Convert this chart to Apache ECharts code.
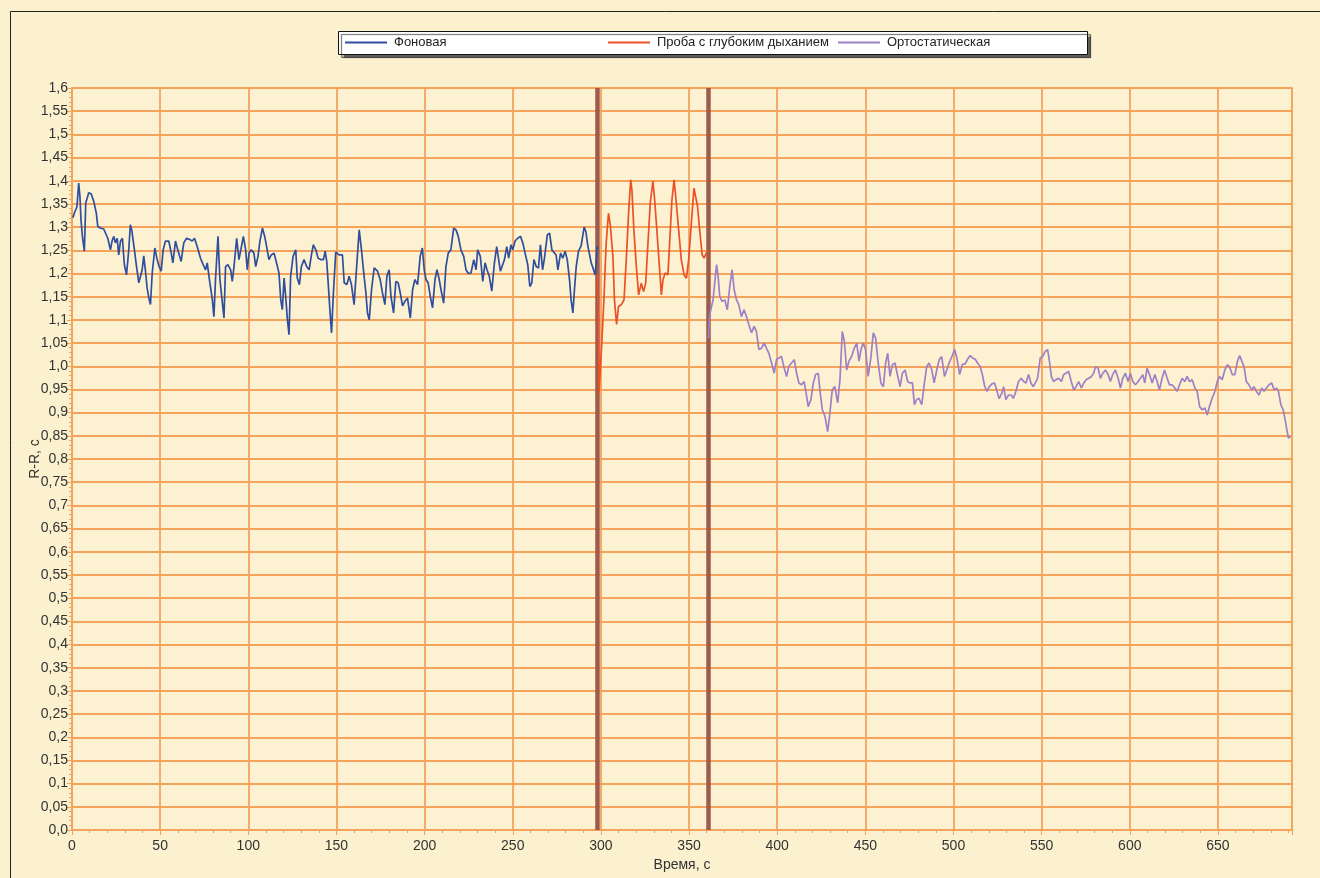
<!DOCTYPE html>
<html><head><meta charset="utf-8">
<script src="https://cdn.jsdelivr.net/npm/echarts@6/dist/echarts.min.js"></script>
<style>html,body{margin:0;padding:0;background:#FBF1CF;}#c{width:1320px;height:878px;}</style>
</head><body><div id="c"></div>
<script>
var seriesNames = ['Фоновая', 'Проба с глубоким дыханием', 'Ортостатическая'];
var xTicks = {min: 0, max: 692, interval: 50};
var yTicks = {min: 0, max: 1.6, interval: 0.05};
var stageBounds = [298, 361];
var fonData = [[0.5,1.32],[1.3,1.33],[2.8,1.344],[3.8,1.395],[4.5,1.366],[5.1,1.316],[5.9,1.28],[7,1.248],[7.8,1.352],[9.5,1.374],[10.8,1.372],[12.3,1.356],[13.8,1.33],[14.6,1.302],[16,1.298],[18,1.296],[19,1.298],[20.3,1.276],[21.8,1.251],[22.7,1.27],[23.7,1.28],[24.6,1.266],[25.6,1.276],[26.5,1.24],[27.5,1.27],[28.6,1.276],[29.7,1.219],[30.9,1.197],[32.2,1.251],[33.1,1.305],[34,1.291],[35.4,1.251],[36.6,1.215],[37.9,1.18],[38.8,1.176],[39.8,1.208],[40.7,1.238],[41.6,1.208],[42.6,1.169],[43.6,1.147],[44.5,1.133],[45.5,1.201],[47,1.255],[48.3,1.23],[49.4,1.215],[50.6,1.205],[51.7,1.251],[53,1.27],[54.9,1.27],[56.3,1.244],[57.2,1.223],[58.7,1.27],[60,1.251],[61.9,1.226],[63.4,1.266],[65,1.276],[66.9,1.273],[68.2,1.27],[69.5,1.276],[71,1.258],[72.9,1.233],[74.4,1.219],[75.8,1.208],[76.7,1.223],[78.2,1.18],[79.5,1.147],[80.5,1.107],[81.4,1.187],[82.8,1.28],[83.9,1.187],[85.2,1.14],[86.2,1.104],[87.1,1.215],[88.4,1.219],[90,1.208],[90.9,1.183],[91.9,1.215],[93.4,1.276],[94.7,1.23],[95.8,1.233],[97.2,1.28],[98.5,1.251],[99.4,1.208],[100.4,1.244],[101.7,1.251],[103.2,1.244],[104.2,1.215],[105.5,1.237],[106.6,1.27],[108,1.298],[109.3,1.28],[110.4,1.258],[111.7,1.23],[113,1.24],[114.6,1.244],[116,1.223],[117.4,1.201],[118.4,1.143],[119.3,1.122],[120.3,1.19],[121.2,1.151],[122.2,1.1],[123.1,1.068],[124,1.194],[125.4,1.237],[126.9,1.251],[127.8,1.19],[129,1.176],[130.1,1.215],[131.6,1.23],[133.1,1.215],[134.5,1.208],[135.8,1.24],[136.9,1.262],[138.3,1.251],[139.6,1.233],[141.1,1.23],[142.6,1.23],[143.6,1.248],[144.5,1.226],[145.5,1.169],[146.4,1.115],[147.2,1.072],[148.3,1.16],[149.6,1.246],[151.5,1.24],[153.4,1.24],[154.4,1.18],[155.9,1.176],[157.2,1.194],[158.5,1.176],[160,1.133],[161.6,1.223],[162.9,1.294],[164.2,1.251],[165.3,1.208],[166.7,1.158],[167.6,1.115],[168.6,1.1],[169.9,1.165],[171.4,1.212],[173.3,1.205],[174.8,1.187],[176.1,1.158],[177.5,1.133],[178.6,1.194],[179.9,1.208],[180.9,1.151],[182.4,1.115],[183.7,1.183],[185,1.18],[186.2,1.158],[187.5,1.13],[188.8,1.14],[190.3,1.147],[191.9,1.104],[193.2,1.165],[194.5,1.187],[196,1.176],[197.5,1.237],[198.7,1.255],[199.8,1.208],[200.8,1.187],[202,1.18],[203.2,1.151],[204.5,1.126],[205.9,1.187],[207,1.208],[208.3,1.187],[209.3,1.165],[210.8,1.136],[212.1,1.215],[213.4,1.244],[214.9,1.251],[216.5,1.298],[217.8,1.294],[219.1,1.28],[220.6,1.251],[222.2,1.237],[223.5,1.208],[224.8,1.2],[226.3,1.201],[227.9,1.23],[229.2,1.208],[230.1,1.251],[231.6,1.237],[233,1.183],[234.3,1.223],[235.4,1.208],[236.7,1.194],[238.1,1.162],[239.6,1.223],[240.9,1.258],[242,1.23],[243,1.205],[243.9,1.201],[245.3,1.23],[246.6,1.258],[247.7,1.233],[249,1.262],[250,1.251],[251.3,1.27],[252.8,1.276],[254.4,1.28],[255.7,1.266],[257,1.244],[258.5,1.219],[259.7,1.172],[260.8,1.18],[262,1.23],[263.3,1.215],[264.6,1.212],[265.7,1.262],[266.9,1.208],[268,1.233],[269.6,1.283],[270.9,1.287],[272.2,1.251],[273.3,1.251],[274.6,1.24],[275.6,1.208],[277.1,1.244],[278.4,1.233],[279.7,1.248],[280.9,1.23],[282.2,1.187],[283.1,1.143],[284.1,1.115],[285,1.165],[286,1.215],[287.3,1.248],[288.8,1.26],[290.5,1.3],[291.5,1.29],[292.6,1.259],[294.5,1.223],[296.8,1.197],[297.9,1.259]];
var probaData = [[298.2,1.2],[298.9,0.94],[300.5,1.05],[301.7,1.143],[303,1.266],[304.3,1.33],[305.4,1.302],[306.8,1.237],[307.7,1.143],[308.9,1.09],[310,1.129],[311.6,1.133],[313.1,1.143],[314.4,1.23],[315.7,1.33],[316.9,1.402],[317.6,1.38],[318.7,1.294],[320.1,1.215],[321.4,1.154],[322.9,1.179],[324.2,1.161],[325.4,1.179],[326.7,1.266],[328,1.352],[329.5,1.399],[330.5,1.359],[332,1.28],[333.3,1.208],[334.3,1.154],[335.2,1.187],[336.5,1.201],[338,1.197],[339,1.266],[340.3,1.359],[341.5,1.402],[342.6,1.359],[344.1,1.294],[345.6,1.23],[347.2,1.197],[348.5,1.19],[349.8,1.23],[351.3,1.309],[352.8,1.384],[353.8,1.388],[354.8,1.345],[356.1,1.291],[357.4,1.241],[358.5,1.233],[359.8,1.244],[360.8,1.25]];
var orthoData = [[361,1.06],[361.7,1.111],[363.6,1.143],[365.6,1.219],[366.5,1.194],[367.4,1.151],[368.7,1.14],[370.3,1.143],[371.7,1.122],[373.1,1.172],[374.4,1.208],[375.6,1.165],[376.9,1.143],[378.2,1.133],[379.7,1.107],[381.2,1.122],[382.6,1.107],[383.9,1.09],[385.4,1.072],[386.9,1.086],[388.2,1.075],[389.6,1.036],[391.1,1.039],[392.6,1.05],[393.9,1.039],[395.3,1.028],[396.8,1.007],[398.3,0.985],[399.6,1.014],[400.9,1.018],[402.4,1.021],[404,0.996],[405.3,0.978],[406.6,1.0],[408.1,1.007],[409.7,1.014],[411,0.985],[412.3,0.964],[413.8,0.96],[415.3,0.967],[416.7,0.935],[417.6,0.913],[419.1,0.928],[420.5,0.964],[421.8,0.982],[423.3,0.985],[424.2,0.949],[425.6,0.906],[427.1,0.892],[428.6,0.859],[429.9,0.899],[431.2,0.949],[432.7,0.956],[434.3,0.921],[435.6,0.971],[436.9,1.075],[438.1,1.054],[439.4,0.992],[440.7,1.011],[442.2,1.021],[443.7,1.039],[445.1,1.05],[446.4,1.011],[447.5,1.036],[448.8,1.05],[450.1,1.036],[451.6,0.978],[453.2,1.021],[454.5,1.072],[455.8,1.061],[457.3,1.007],[458.8,0.964],[460.2,0.956],[461.5,1.007],[462.7,1.028],[464,0.978],[465.3,1.003],[466.8,1.007],[468.4,0.978],[469.7,0.956],[471,0.985],[472.5,0.992],[474,0.967],[475.3,0.964],[476.7,0.964],[477.8,0.917],[479.1,0.928],[480.4,0.931],[482,0.917],[483.5,0.964],[484.8,0.999],[486.1,1.007],[487.7,0.992],[489,0.964],[490.5,0.992],[491.9,1.014],[493.3,1.021],[494.9,0.978],[496.2,0.992],[497.5,1.007],[499.1,1.021],[500.6,1.036],[502,1.016],[503.5,0.982],[505,1.004],[506.6,1.005],[508.1,1.016],[509.5,1.023],[510.8,1.018],[512.3,1.015],[513.8,1.006],[515.1,1.0],[516.5,0.98],[517.6,0.958],[518.9,0.946],[520.3,0.956],[521.8,0.962],[523.3,0.964],[524.6,0.947],[525.9,0.93],[527.4,0.942],[528.4,0.956],[529.7,0.928],[531.2,0.938],[532.7,0.938],[534,0.931],[535.4,0.946],[536.9,0.967],[538.4,0.974],[539.8,0.967],[541.1,0.964],[542.6,0.982],[543.9,0.964],[545.3,0.956],[546.4,0.953],[547.7,0.974],[549.2,1.018],[550.5,1.021],[552,1.032],[553.4,1.036],[554.3,1.014],[555.5,0.978],[556.8,0.967],[558.1,0.971],[559.6,0.974],[561.2,0.967],[562.5,0.982],[563.8,0.985],[565.3,0.989],[566.8,0.967],[568.2,0.949],[569.5,0.956],[571,0.967],[572.5,0.953],[573.9,0.964],[575.2,0.971],[576.7,0.974],[578.2,0.978],[579.5,0.985],[580.5,0.999],[582,0.996],[583.3,0.974],[584.7,0.985],[586.2,0.992],[587.7,0.982],[589,0.967],[590.3,0.982],[591.8,0.992],[593.4,0.974],[594.7,0.953],[596,0.974],[597.5,0.985],[599,0.967],[600.3,0.985],[601.7,0.967],[603.2,0.96],[604.7,0.967],[606,0.974],[607.4,0.982],[608.5,0.964],[609.8,0.996],[611.2,0.982],[612.7,0.964],[614.2,0.982],[615.5,0.967],[616.8,0.949],[618.3,0.974],[619.7,0.992],[621.2,0.974],[622.5,0.96],[624,0.96],[625.5,0.953],[626.9,0.946],[628.2,0.96],[629.7,0.974],[631.2,0.967],[632.5,0.978],[633.9,0.967],[635.4,0.971],[636.9,0.953],[638.2,0.946],[639.6,0.913],[641.1,0.906],[642.6,0.91],[643.9,0.895],[645.2,0.913],[646.7,0.931],[648.3,0.946],[649.6,0.967],[650.9,0.978],[652.4,0.971],[653.9,0.992],[655.3,1.003],[656.6,0.999],[658.1,0.982],[659.6,0.982],[661,1.01],[662.3,1.023],[663.4,1.021],[664.8,0.999],[666.1,0.967],[667.6,0.96],[669.1,0.949],[670.4,0.956],[671.8,0.946],[673.3,0.938],[674.8,0.953],[676.1,0.946],[677.5,0.953],[679,0.96],[680.5,0.964],[681.9,0.949],[683.2,0.953],[684.3,0.946],[685.7,0.917],[687,0.906],[688.1,0.885],[689.1,0.863],[690,0.845],[691.3,0.849]];

var seriesColors = ['#2F4E9E', '#EC5026', '#9D80C6'];
var gridColor = '#F5A35C';
var font = '"Liberation Sans", Arial, sans-serif';

function fmtY(v) {
  var s = String(+(+v).toFixed(2));
  if (s.indexOf('.') < 0) s += '.0';
  return s.replace('.', ',');
}

var chart = echarts.init(document.getElementById('c'), null, {renderer: 'canvas'});
var legendLefts = [345, 608, 838];
var legends = seriesNames.map(function (n, i) {
  return {
    data: [n], left: legendLefts[i], top: 36, padding: 0, icon: 'rect',
    itemWidth: 42, itemHeight: 2, itemGap: 0, selectedMode: false, z: 20,
    textStyle: {fontFamily: font, fontSize: 13, color: '#222', padding: [0, 0, 0, 2]}
  };
});
var dataSets = [fonData, probaData, orthoData];
var series = dataSets.map(function (d, i) {
  return {
    name: seriesNames[i], type: 'line', data: d, showSymbol: false, symbol: 'none',
    lineStyle: {color: seriesColors[i], width: 1.7}, itemStyle: {color: seriesColors[i]},
    z: 5, animation: false
  };
});
series.push({
  type: 'line', data: [], silent: true, z: 4,
  markLine: {
    silent: true, symbol: ['none', 'none'], label: {show: false}, animation: false,
    lineStyle: {color: '#9C5B4B', width: 4.5, type: 'solid'},
    data: stageBounds.map(function (b) { return {xAxis: b}; })
  }
});

chart.setOption({
  backgroundColor: '#FBF1CF',
  animation: false,
  graphic: [
    {type: 'rect', shape: {x: 10.5, y: 11.5, width: 1400, height: 1000}, style: {fill: 'none', stroke: '#222', lineWidth: 1}, silent: true, z: 0},
    {type: 'rect', shape: {x: 338.5, y: 31.5, width: 749, height: 23}, style: {fill: '#FFFFFF', stroke: '#111', lineWidth: 1, shadowColor: 'rgba(60,60,60,0.8)', shadowOffsetX: 3, shadowOffsetY: 3, shadowBlur: 1}, silent: true, z: 10}
  ],
  legend: legends,
  grid: {left: 72, right: 28, top: 88, bottom: 48, show: true, borderColor: gridColor, borderWidth: 1.5, backgroundColor: '#FCF2D2'},
  xAxis: {
    type: 'value', min: xTicks.min, max: xTicks.max, interval: xTicks.interval,
    name: 'Время, с', nameLocation: 'middle', nameGap: 22,
    nameTextStyle: {fontFamily: font, fontSize: 14, color: '#333'},
    axisLine: {show: true, lineStyle: {color: gridColor, width: 1.5}},
    axisTick: {show: true, length: 5, lineStyle: {color: gridColor}},
    minorTick: {show: true, splitNumber: 5, length: 3, lineStyle: {color: gridColor}},
    splitLine: {show: true, lineStyle: {color: gridColor, width: 1.8}},
    axisLabel: {fontFamily: font, fontSize: 14, color: '#333', margin: 9, showMaxLabel: false}
  },
  yAxis: {
    type: 'value', min: yTicks.min, max: yTicks.max, interval: yTicks.interval,
    name: 'R-R, c', nameLocation: 'middle', nameGap: 30, nameRotate: 90, nameMoveOverlap: false,
    nameTextStyle: {fontFamily: font, fontSize: 14, color: '#333'},
    axisLine: {show: true, lineStyle: {color: gridColor, width: 1.5}},
    axisTick: {show: true, length: 5, lineStyle: {color: gridColor}},
    minorTick: {show: true, splitNumber: 5, length: 3, lineStyle: {color: gridColor}},
    splitLine: {show: true, lineStyle: {color: gridColor, width: 1.8}},
    axisLabel: {fontFamily: font, fontSize: 14, color: '#333', margin: 4, formatter: fmtY}
  },
  series: series
});
</script></body></html>
